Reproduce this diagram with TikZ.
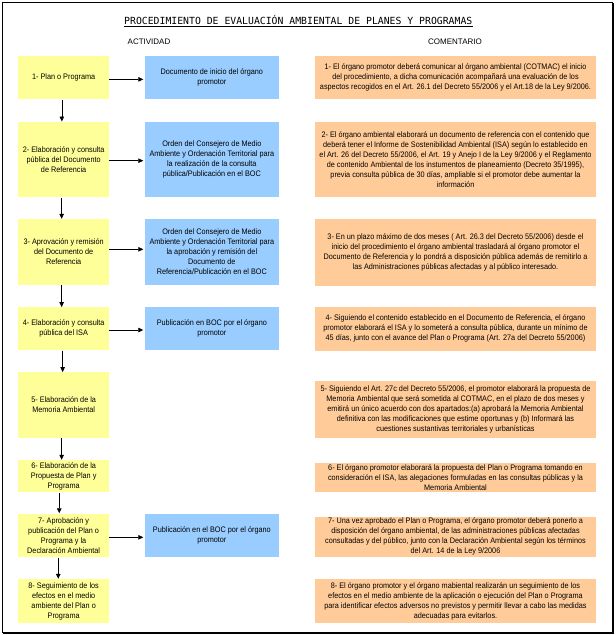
\documentclass[tikz,border=0pt]{standalone}
\usepackage{fontspec}
\setmainfont[FakeStretch=0.91]{Liberation Sans}
\newfontfamily\hdrfont{Liberation Sans}
\newfontfamily\titlefont{DejaVu Sans Mono}
\usetikzlibrary{arrows.meta}
\definecolor{ylw}{HTML}{FFFF99}
\definecolor{blu}{HTML}{99CCFF}
\definecolor{org}{HTML}{FFCC99}
\begin{document}
\begin{tikzpicture}[x=1pt,y=-1pt,
  box/.style={inner sep=0pt, align=center, font=\fontsize{8}{10}\selectfont},
  ybox/.style={box, fill=ylw, minimum width=90.7pt},
  bbox/.style={box, fill=blu, minimum width=133.7pt},
  obox/.style={box, fill=org, minimum width=281pt},
  arr/.style={-{Triangle[length=5pt,width=4.5pt]}, line width=0.7pt},
  hdr/.style={inner sep=0pt, font=\hdrfont\fontsize{8}{10}\selectfont}]
\useasboundingbox (0,0) rectangle (616,635);
\draw[line width=0.8pt] (2,2) rectangle (612.5,632.5);
\draw[line width=1.2pt] (613.3,3) -- (613.3,633.3) -- (3,633.3);

\node[inner sep=0pt, anchor=base, font=\titlefont\fontsize{9.8}{12}\selectfont] (title) at (298.3,24.3) {PROCEDIMIENTO DE EVALUACIÓN AMBIENTAL DE PLANES Y PROGRAMAS};
\draw[line width=0.6pt] ([yshift=-1.6pt]title.base west) -- ([yshift=-1.6pt]title.base east);

\node[hdr] (act) at (149,41.7) {ACTIVIDAD};
\node[hdr] (com) at (455,42) {COMENTARIO};

% yellow column
\node[ybox, minimum height=43.3pt] (y1) at (63.65,77.65) {1- Plan o Programa};
\node[ybox, minimum height=75.6pt] (y2) at (63.65,159.5) {2- Elaboración y consulta\\pública del Documento\\de Referencia};
\node[ybox, minimum height=66pt] (y3) at (63.65,252) {3- Aprovación y remisión\\del Documento de\\Referencia};
\node[ybox, minimum height=43pt] (y4) at (63.65,328.8) {4- Elaboración y consulta\\pública del ISA};
\node[ybox, minimum height=65.4pt] (y5) at (63.65,405) {5- Elaboración de la\\Memoria Ambiental};
\node[ybox, minimum height=32.3pt] (y6) at (63.65,476.15) {6- Elaboración de la\\Propuesta de Plan y\\Programa};
\node[ybox, minimum height=43.8pt] (y7) at (63.65,535.4) {7- Aprobación y\\publicación del Plan o\\Programa y la\\Declaración Ambiental};
\node[ybox, minimum height=44.3pt] (y8) at (63.65,601.15) {8- Seguimiento de los\\efectos en el medio\\ambiente del Plan o\\Programa};

% blue column
\node[bbox, minimum height=43.3pt] (b1) at (211.85,77.65) {Documento de inicio del órgano\\promotor};
\node[bbox, minimum height=75.6pt] (b2) at (211.85,159.5) {Orden del Consejero de Medio\\Ambiente y Ordenación Territorial para\\la realización de la consulta\\pública/Publicación en el BOC};
\node[bbox, minimum height=66pt] (b3) at (211.85,252) {Orden del Consejero de Medio\\Ambiente y Ordenación Territorial para\\la aprobación y remisión del\\Documento de\\Referencia/Publicación en el BOC};
\node[bbox, minimum height=43pt] (b4) at (211.85,328.8) {Publicación en BOC por el órgano\\promotor};
\node[bbox, minimum height=43.8pt] (b7) at (211.85,535.4) {Publicación en el BOC por el órgano\\promotor};

% orange column
\node[obox, minimum height=43.3pt] (o1) at (455.5,77.65) {1- El órgano promotor deberá comunicar al órgano ambiental (COTMAC) el inicio\\del procedimiento, a dicha comunicación acompañará una evaluación de los\\aspectos recogidos en el Art. 26.1 del Decreto 55/2006 y el Art.18 de la Ley 9/2006.};
\node[obox, minimum height=75.6pt] (o2) at (455.5,159.5) {2- El órgano ambiental elaborará un documento de referencia con el contenido que\\deberá tener el Informe de Sostenibilidad Ambiental (ISA) según lo establecido en\\el Art. 26 del Decreto 55/2006, el Art. 19 y Anejo I de la Ley 9/2006 y el Reglamento\\de contenido Ambiental de los instumentos de planeamiento (Decreto 35/1995),\\previa consulta pública de 30 días, ampliable si el promotor debe aumentar la\\información};
\node[obox, minimum height=66.7pt] (o3) at (455.5,252.35) {3- En un plazo máximo de dos meses ( Art. 26.3 del Decreto 55/2006) desde el\\inicio del procedimiento el órgano ambiental trasladará al órgano promotor el\\Documento de Referencia y lo pondrá a disposición pública además de remitirlo a\\las Administraciones públicas afectadas y al público interesado.};
\node[obox, minimum height=44pt] (o4) at (455.5,328.7) {4- Siguiendo el contenido establecido en el Documento de Referencia, el órgano\\promotor elaborará el ISA y lo someterá a consulta pública, durante un mínimo de\\45 días, junto con el avance del Plan o Programa (Art. 27a del Decreto 55/2006)};
\node[obox, minimum height=57.3pt] (o5) at (455.5,409.65) {5- Siguiendo el Art. 27c del Decreto 55/2006, el promotor elaborará la propuesta de\\Memoria Ambiental que será sometida al COTMAC, en el plazo de dos meses y\\emitirá un único acuerdo con dos apartados:(a) aprobará la Memoria Ambiental\\definitiva con las modificaciones que estime oportunas y (b) Informará las\\cuestiones sustantivas territoriales y urbanísticas};
\node[obox, minimum height=28.4pt] (o6) at (455.5,477.5) {6- El órgano promotor elaborará la propuesta del Plan o Programa tomando en\\consideración el ISA, las alegaciones formuladas en las consultas públicas y la\\Memoria Ambiental};
\node[obox, minimum height=40pt] (o7) at (455.5,536.7) {7- Una vez aprobado el Plan o Programa, el órgano promotor deberá ponerlo a\\disposición del órgano ambiental, de las administraciones públicas afectadas\\consultadas y del público, junto con la Declaración Ambiental según los términos\\del Art. 14 de la Ley 9/2006};
\node[obox, minimum height=43.4pt] (o8) at (455.5,601) {8- El órgano promotor y el órgano mabiental realizarán un seguimiento de los\\efectos en el medio ambiente de la aplicación o ejecución del Plan o Programa\\para identificar efectos adversos no previstos y permitir llevar a cabo las medidas\\adecuadas para evitarlos.};

% vertical arrows
\draw[arr] ([xshift=-1.8pt]y1.south) -- ([xshift=-1.8pt]y2.north);
\draw[arr] ([xshift=-2pt]y2.south) -- ([xshift=-2pt]y3.north);
\draw[arr] ([xshift=-2pt]y3.south) -- ([xshift=-2pt]y4.north);
\draw[arr] ([xshift=-1pt]y4.south) -- ([xshift=-1pt]y5.north);
\draw[arr] ([xshift=-2pt]y5.south) -- ([xshift=-2pt]y6.north);
\draw[arr] ([xshift=-4.4pt]y6.south) -- ([xshift=-4.4pt]y7.north);
\draw[arr] ([xshift=-5.4pt]y7.south) -- ([xshift=-5.4pt]y8.north);

% horizontal arrows
\draw[arr, shorten >=1.5pt] ([yshift=-1.7pt]y1.east) -- ([yshift=-1.7pt]b1.west);
\draw[arr, shorten >=1.5pt] ([yshift=-1.2pt]y2.east) -- ([yshift=-1.2pt]b2.west);
\draw[arr, shorten >=1.5pt] ([yshift=2.7pt]y3.east) -- ([yshift=2.7pt]b3.west);
\draw[arr, shorten >=1.5pt] ([yshift=-1.2pt]y4.east) -- ([yshift=-1.2pt]b4.west);
\draw[arr, shorten >=1.5pt] ([yshift=-1.9pt]y7.east) -- ([yshift=-1.9pt]b7.west);
\end{tikzpicture}
\end{document}
